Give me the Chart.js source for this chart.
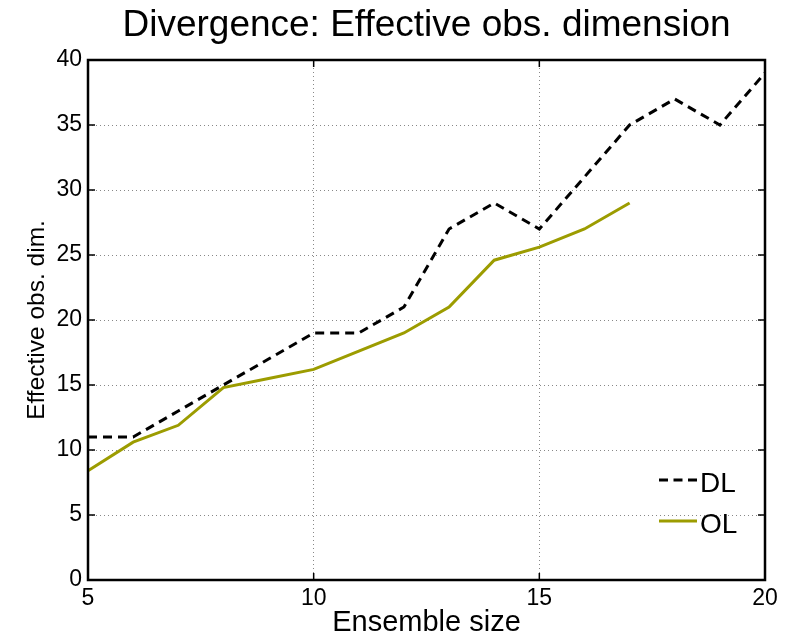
<!DOCTYPE html>
<html>
<head>
<meta charset="utf-8">
<script src="https://cdn.jsdelivr.net/npm/chart.js@4"></script>
<style>
  html, body { margin: 0; padding: 0; background: #fff; }
  #wrap { width: 785px; height: 637px; }
</style>
</head>
<body>
<div id="wrap"><canvas id="c" width="785" height="637"></canvas></div>
<script>
// Effective observation dimension versus ensemble size
const ensembleSizes = [5, 6, 7, 8, 9, 10, 11, 12, 13, 14, 15, 16, 17, 18, 19, 20];
const dlValues      = [11, 11, 13, 15, 17, 19, 19, 21, 27, 29, 27, 31, 35, 37, 35, 39];
const olSizes       = [5, 6, 7, 8, 9, 10, 11, 12, 13, 14, 15, 16, 17];
const olValues      = [8.4, 10.6, 11.9, 14.8, 15.5, 16.2, 17.6, 19, 21, 24.6, 25.6, 27, 29];
const xTickValues   = [5, 10, 15, 20];
const yTickValues   = [0, 5, 10, 15, 20, 25, 30, 35, 40];

const FONT = '"Liberation Sans", Arial, Helvetica, sans-serif';
const OLIVE = '#9c9c00';

const toPoints = (xs, ys) => xs.map((x, i) => ({ x: x, y: ys[i] }));

// Centre the chart title over the plot area rather than the whole canvas
const titleOverPlot = {
  id: 'titleOverPlot',
  afterLayout(chart) {
    const t = chart.titleBlock;
    if (!t) return;
    t.left = chart.chartArea.left;
    t.right = chart.chartArea.right;
    t.width = t.right - t.left;
  }
};

// Box frame with inward tick marks on all four sides
const framePlugin = {
  id: 'frame',
  afterDatasetsDraw(chart) {
    const { ctx, chartArea: a, scales } = chart;
    const tick = 7;
    ctx.save();
    ctx.strokeStyle = '#000';
    ctx.lineWidth = 1.5;
    ctx.beginPath();
    xTickValues.forEach(v => {
      const px = scales.x.getPixelForValue(v);
      ctx.moveTo(px, a.bottom); ctx.lineTo(px, a.bottom - tick);
      ctx.moveTo(px, a.top);    ctx.lineTo(px, a.top + tick);
    });
    yTickValues.forEach(v => {
      const py = scales.y.getPixelForValue(v);
      ctx.moveTo(a.left, py);  ctx.lineTo(a.left + tick, py);
      ctx.moveTo(a.right, py); ctx.lineTo(a.right - tick, py);
    });
    ctx.stroke();
    ctx.lineWidth = 2.5;
    ctx.strokeRect(a.left, a.top, a.right - a.left, a.bottom - a.top);
    ctx.restore();
  }
};

// Legend drawn inside the lower-right corner of the plot area
const insideLegend = {
  id: 'insideLegend',
  afterDraw(chart) {
    const { ctx, chartArea: a } = chart;
    const x0 = a.right - 106, lineLen = 38, rowGap = 41;
    let y = a.bottom - 100;
    ctx.save();
    ctx.font = '28px ' + FONT;
    ctx.textBaseline = 'middle';
    ctx.textAlign = 'left';
    chart.data.datasets.forEach(ds => {
      ctx.strokeStyle = ds.borderColor;
      ctx.lineWidth = ds.borderWidth;
      ctx.setLineDash(ds.label === 'DL' ? [9, 5.5] : []);
      ctx.beginPath();
      ctx.moveTo(x0, y); ctx.lineTo(x0 + lineLen, y);
      ctx.stroke();
      ctx.setLineDash([]);
      ctx.fillStyle = '#000';
      ctx.fillText(ds.label, x0 + lineLen + 3, y + 4);
      y += rowGap;
    });
    ctx.restore();
  }
};

new Chart(document.getElementById('c'), {
  type: 'line',
  data: {
    datasets: [
      {
        label: 'DL',
        data: toPoints(ensembleSizes, dlValues),
        borderColor: '#000',
        borderWidth: 3,
        borderDash: [9, 6],
        pointRadius: 0,
        fill: false,
        tension: 0
      },
      {
        label: 'OL',
        data: toPoints(olSizes, olValues),
        borderColor: OLIVE,
        borderWidth: 3,
        pointRadius: 0,
        fill: false,
        tension: 0
      }
    ]
  },
  options: {
    responsive: false,
    animation: false,
    layout: { padding: { left: 0, right: 20, top: 0, bottom: 0 } },
    plugins: {
      legend: { display: false },
      tooltip: { enabled: false },
      title: {
        display: true,
        text: 'Divergence: Effective obs. dimension',
        color: '#000',
        font: { family: FONT, size: 37, weight: 'normal', lineHeight: 1.2 },
        padding: { top: 4, bottom: 11.6 }
      }
    },
    scales: {
      x: {
        type: 'linear',
        min: 5,
        max: 20,
        afterBuildTicks: s => { s.ticks = xTickValues.map(v => ({ value: v })); },
        afterFit: s => { s.height = 57; },
        grid: { color: '#888', lineWidth: 1, drawTicks: false },
        border: { display: false, dash: [1, 3] },
        ticks: {
          color: '#000',
          padding: 5,
          maxRotation: 0,
          font: { family: FONT, size: 23 }
        },
        title: {
          display: true,
          text: 'Ensemble size',
          color: '#000',
          font: { family: FONT, size: 29, lineHeight: 1 },
          padding: { top: 0, bottom: 0 }
        }
      },
      y: {
        type: 'linear',
        min: 0,
        max: 40,
        afterBuildTicks: s => { s.ticks = yTickValues.map(v => ({ value: v })); },
        afterFit: s => { s.width = 88; },
        grid: { color: '#888', lineWidth: 1, drawTicks: false },
        border: { display: false, dash: [1, 3] },
        ticks: {
          color: '#000',
          padding: 6,
          font: { family: FONT, size: 23 }
        },
        title: {
          display: true,
          text: 'Effective obs. dim.',
          color: '#000',
          font: { family: FONT, size: 24.5, lineHeight: 1 },
          padding: { top: 25, bottom: 0 }
        }
      }
    }
  },
  plugins: [titleOverPlot, framePlugin, insideLegend]
});
</script>
</body>
</html>
